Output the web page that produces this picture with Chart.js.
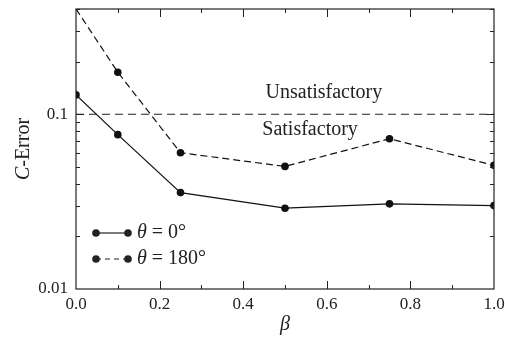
<!DOCTYPE html>
<html>
<head>
<meta charset="utf-8">
<script src="https://cdn.jsdelivr.net/npm/chart.js@4.4.1/dist/chart.umd.min.js"></script>
<style>
  html, body { margin: 0; padding: 0; background: #fff; }
  #wrap { width: 505px; height: 339px; }
</style>
</head>
<body>
<div id="wrap"><canvas id="errChart"></canvas></div>
<script>
// beta values and C-error for the two orientations
const beta = [0, 0.1, 0.25, 0.5, 0.75, 1.0];
const err0 = [0.129, 0.0764, 0.0356, 0.0290, 0.0307, 0.0300];
const err180 = [0.40, 0.174, 0.0602, 0.0503, 0.0724, 0.0510];
const threshold = 0.1;
const yTicks = [0.01, 0.02, 0.03, 0.04, 0.05, 0.06, 0.07, 0.08, 0.09, 0.1, 0.2, 0.3, 0.4];
const yLabels = [0.01, 0.1];
const legendLabels = ['0°', '180°'];

const serif = '"Liberation Serif", "DejaVu Serif", serif';

function pts(ys) {
  return beta.map((b, i) => ({ x: b, y: ys[i] }));
}

// frame, inward tick marks, region labels and the legend
const decor = {
  id: 'decor',
  afterDraw(chart) {
    const ctx = chart.ctx;
    const a = chart.chartArea;
    const xs = chart.scales.x, ys = chart.scales.y;
    ctx.save();
    ctx.strokeStyle = '#222';
    ctx.lineWidth = 1.2;
    ctx.strokeRect(a.left, a.top, a.right - a.left, a.bottom - a.top);

    ctx.lineWidth = 1;
    ctx.beginPath();
    for (let i = 1; i < 10; i++) {
      const v = i / 10;
      const px = Math.round(xs.getPixelForValue(v)) + 0.5;
      const len = i % 2 === 0 ? 8 : 4;
      ctx.moveTo(px, a.bottom); ctx.lineTo(px, a.bottom - len);
      ctx.moveTo(px, a.top); ctx.lineTo(px, a.top + len);
    }
    yTicks.forEach(v => {
      if (v === 0.01) return;
      const py = Math.round(ys.getPixelForValue(v)) + 0.5;
      const len = yLabels.includes(v) ? 8 : 4;
      ctx.moveTo(a.left, py); ctx.lineTo(a.left + len, py);
      ctx.moveTo(a.right, py); ctx.lineTo(a.right - len, py);
    });
    ctx.stroke();

    // satisfactory / unsatisfactory labels around the threshold
    const yt = ys.getPixelForValue(threshold);
    ctx.fillStyle = '#222';
    ctx.font = '20px ' + serif;
    ctx.textAlign = 'center';
    ctx.textBaseline = 'alphabetic';
    ctx.fillText('Unsatisfactory', xs.getPixelForValue(0.593), yt - 16);
    ctx.fillText('Satisfactory', xs.getPixelForValue(0.56), yt + 21);

    // legend: segment with a dot at each end
    const rows = [{ y: 233, dash: [] }, { y: 259, dash: [5, 4] }];
    rows.forEach((r, i) => {
      ctx.setLineDash(r.dash);
      ctx.lineWidth = 1.2;
      ctx.beginPath();
      ctx.moveTo(96, r.y); ctx.lineTo(128, r.y);
      ctx.stroke();
      ctx.setLineDash([]);
      [96, 128].forEach(cx => {
        ctx.beginPath();
        ctx.arc(cx, r.y, 3.8, 0, Math.PI * 2);
        ctx.fill();
      });
      ctx.textAlign = 'left';
      ctx.textBaseline = 'middle';
      ctx.font = 'italic 20px ' + serif;
      ctx.fillText('θ', 137, r.y);
      const w = ctx.measureText('θ').width;
      ctx.font = '20px ' + serif;
      ctx.fillText(' = ' + legendLabels[i], 137 + w, r.y);
    });
    ctx.restore();
  }
};

// italic C in the y title
const yTitle = {
  id: 'yTitle',
  afterDraw(chart) {
    const ctx = chart.ctx;
    const a = chart.chartArea;
    ctx.save();
    ctx.translate(24, (a.top + a.bottom) / 2);
    ctx.rotate(-Math.PI / 2);
    ctx.fillStyle = '#222';
    ctx.textBaseline = 'middle';
    ctx.font = 'italic 20px ' + serif;
    const wc = ctx.measureText('C').width;
    ctx.font = '20px ' + serif;
    const wr = ctx.measureText('-Error').width;
    const x0 = -(wc + wr) / 2;
    ctx.textAlign = 'left';
    ctx.font = 'italic 20px ' + serif;
    ctx.fillText('C', x0, 0);
    ctx.font = '20px ' + serif;
    ctx.fillText('-Error', x0 + wc, 0);
    ctx.restore();
  }
};

new Chart(document.getElementById('errChart'), {
  type: 'line',
  data: {
    datasets: [{
      label: 'θ = 0°',
      data: pts(err0),
      borderColor: '#111',
      backgroundColor: '#111',
      borderWidth: 1.2,
      pointRadius: 3.8,
      pointHoverRadius: 3.8,
      pointBorderWidth: 0
    }, {
      label: 'θ = 180°',
      data: pts(err180),
      borderColor: '#111',
      backgroundColor: '#111',
      borderWidth: 1.2,
      borderDash: [7, 4],
      pointRadius: [0, 3.8, 3.8, 3.8, 3.8, 3.8],
      pointBorderWidth: 0
    }, {
      label: 'threshold',
      data: [{ x: 0, y: threshold }, { x: 1, y: threshold }],
      borderColor: '#222',
      borderWidth: 1.2,
      borderDash: [8, 5],
      pointRadius: 0
    }]
  },
  options: {
    responsive: true,
    maintainAspectRatio: false,
    animation: false,
    layout: { padding: { top: 9, right: 11, left: 0, bottom: 0 } },
    plugins: { legend: { display: false }, tooltip: { enabled: false } },
    scales: {
      x: {
        type: 'linear',
        min: 0,
        max: 1,
        grid: { display: false, drawTicks: false },
        border: { display: false },
        ticks: {
          stepSize: 0.1,
          padding: 5,
          maxRotation: 0,
          autoSkip: false,
          color: '#222',
          font: { family: serif, size: 17 },
          callback: v => (Math.round(v * 10) % 2 === 0 ? v.toFixed(1) : '')
        },
        title: {
          display: true,
          text: 'β',
          color: '#222',
          font: { family: serif, size: 20, style: 'italic' },
          padding: { top: 0, bottom: 2 }
        },
        afterFit: s => { s.height = 50; s.paddingLeft = 0; s.paddingRight = 0; }
      },
      y: {
        type: 'logarithmic',
        min: 0.01,
        max: 0.4,
        grid: { display: false, drawTicks: false },
        border: { display: false },
        afterBuildTicks: s => { s.ticks = yTicks.map(v => ({ value: v })); },
        ticks: {
          padding: 8,
          autoSkip: false,
          color: '#222',
          font: { family: serif, size: 17 },
          callback: v => (yLabels.includes(v) ? String(v) : '')
        },
        afterFit: s => { s.width = 76; s.paddingTop = 0; s.paddingBottom = 0; }
      }
    }
  },
  plugins: [decor, yTitle]
});
</script>
</body>
</html>
